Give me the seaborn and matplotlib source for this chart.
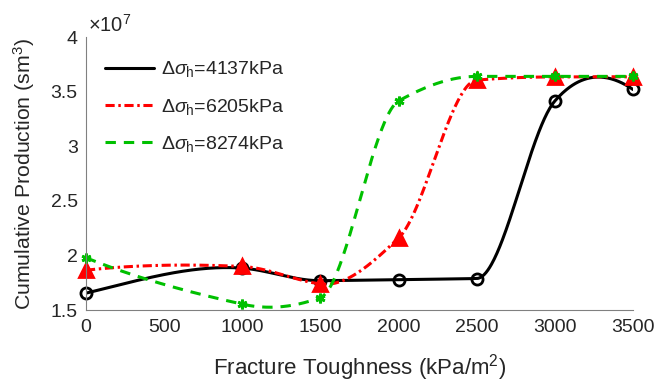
import numpy as np
import pandas as pd
import matplotlib
matplotlib.use("Agg")
import matplotlib.pyplot as plt
import seaborn as sns

# ---- data (cumulative production in units of 1e7 sm^3) ----
toughness = [0, 1000, 1500, 2000, 2500, 3000, 3500]
prod_4137 = [1.656, 1.885, 1.770, 1.780, 1.790, 3.415, 3.520]
prod_6205 = [1.866, 1.900, 1.740, 2.160, 3.606, 3.635, 3.635]
prod_8274 = [1.980, 1.555, 1.616, 3.415, 3.640, 3.640, 3.640]
labels = [r"$\Delta\sigma_{\mathrm{h}}$=4137kPa",
          r"$\Delta\sigma_{\mathrm{h}}$=6205kPa",
          r"$\Delta\sigma_{\mathrm{h}}$=8274kPa"]
x_ticks = [0, 500, 1000, 1500, 2000, 2500, 3000, 3500]
y_ticks = [1.5, 2, 2.5, 3, 3.5, 4]


def makima(x, y, xq):
    """Modified Akima piecewise cubic Hermite interpolation (like MATLAB makima)."""
    x = np.asarray(x, float)
    y = np.asarray(y, float)
    h = np.diff(x)
    d = np.diff(y) / h
    n = len(x)
    dm1 = 2 * d[0] - d[1]
    dm2 = 2 * dm1 - d[0]
    dn = 2 * d[-1] - d[-2]
    dn1 = 2 * dn - d[-1]
    dd = np.concatenate([[dm2, dm1], d, [dn, dn1]])
    s = np.zeros(n)
    for i in range(n):
        a, b, c, e = dd[i], dd[i + 1], dd[i + 2], dd[i + 3]
        w1 = abs(e - c) + abs(e + c) / 2
        w2 = abs(b - a) + abs(b + a) / 2
        if w1 + w2 == 0:
            s[i] = (b + c) / 2
        else:
            s[i] = (w1 * b + w2 * c) / (w1 + w2)
    xq = np.asarray(xq, float)
    idx = np.clip(np.searchsorted(x, xq) - 1, 0, n - 2)
    hk = h[idx]
    t = (xq - x[idx]) / hk
    h00 = 2 * t**3 - 3 * t**2 + 1
    h10 = t**3 - 2 * t**2 + t
    h01 = -2 * t**3 + 3 * t**2
    h11 = t**3 - t**2
    return h00 * y[idx] + h10 * hk * s[idx] + h01 * y[idx + 1] + h11 * hk * s[idx + 1]


sns.set_theme(style="white")
plt.rcParams["font.family"] = ["Liberation Sans", "DejaVu Sans"]
plt.rcParams["mathtext.fontset"] = "custom"
plt.rcParams["mathtext.rm"] = "Liberation Sans"
plt.rcParams["mathtext.it"] = "Liberation Sans:italic"
plt.rcParams["mathtext.bf"] = "Liberation Sans:bold"

txt = "#262626"
axc = "#808080"

fig = plt.figure(figsize=(6.72, 3.82), dpi=100)
ax = fig.add_axes([0.128, 0.188, 0.814, 0.715])

series = [prod_4137, prod_6205, prod_8274]
colors = ["black", "#ff0000", "#00c000"]
dashes = ["-", (0, (3.0, 1.2, 0.8, 1.2)), (0, (3.4, 2.6))]
markers = ["o", "^", (6, 2, 0)]
msizes = [8, 10, 7]
mfc = ["none", "#ff0000", "#00c000"]

xs = np.linspace(toughness[0], toughness[-1], 600)
for vals, col, ls, mk, ms, fc, lab in zip(series, colors, dashes, markers, msizes, mfc, labels):
    df_line = pd.DataFrame({"x": xs, "y": makima(toughness, vals, xs)})
    sns.lineplot(data=df_line, x="x", y="y", ax=ax, color=col, linestyle=ls,
                 linewidth=2.2, label=lab, sort=False)
    df_pts = pd.DataFrame({"x": toughness, "y": vals})
    ax.plot(df_pts["x"], df_pts["y"], linestyle="none", marker=mk, markersize=ms,
            markerfacecolor=fc, markeredgecolor=col, markeredgewidth=2, clip_on=False)

ax.set_xlim(0, 3500)
ax.set_ylim(1.5, 4)
ax.set_xticks(x_ticks)
ax.set_yticks(y_ticks)
ax.set_yticklabels([f"{v:g}" for v in y_ticks])
ax.tick_params(direction="in", length=5, width=0.8, colors=axc, labelcolor=txt,
               labelsize=14, pad=6)
for side in ["top", "right"]:
    ax.spines[side].set_visible(False)
for side in ["left", "bottom"]:
    ax.spines[side].set_color(axc)
    ax.spines[side].set_linewidth(0.8)

ax.set_xlabel("Fracture Toughness (kPa/m$^2$)", fontsize=16, color=txt, labelpad=12)
ax.set_ylabel("Cumulative Production (sm$^3$)", fontsize=15.3, color=txt, labelpad=10)
ax.text(0.004, 1.018, "×10$^{7}$", transform=ax.transAxes, fontsize=14.5,
        color=txt, ha="left", va="baseline")

leg = ax.legend(loc="upper left", bbox_to_anchor=(0.035, 0.918), frameon=False,
                borderaxespad=0, borderpad=0,
                fontsize=14, handlelength=2.5, handletextpad=0.35, labelspacing=0.88)
for t in leg.get_texts():
    t.set_color(txt)

fig.savefig("out.png", dpi=100)
